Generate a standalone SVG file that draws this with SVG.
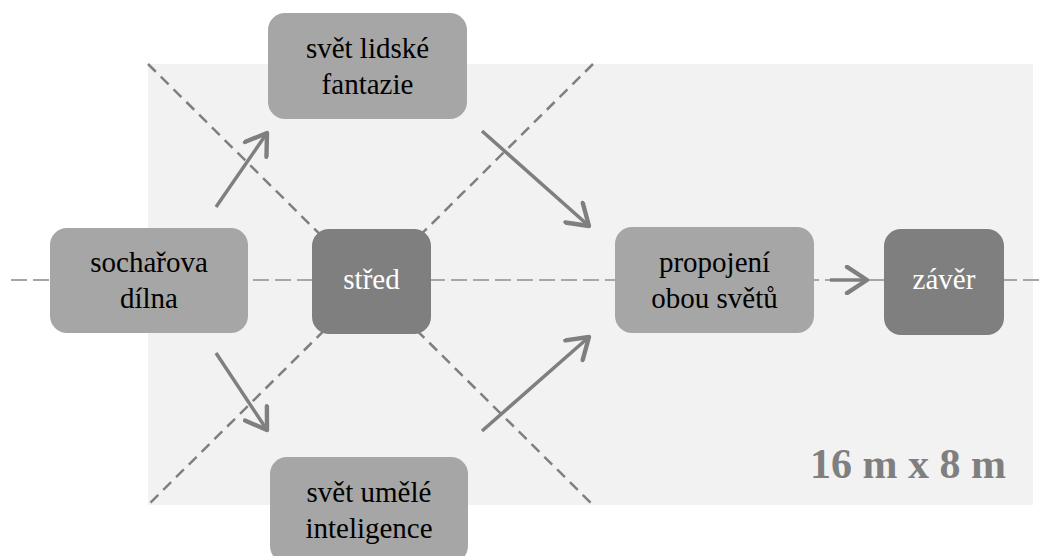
<svg xmlns="http://www.w3.org/2000/svg" width="1046" height="556" viewBox="0 0 1046 556">
<style>
.bg{fill:#f2f2f2}
.n1{fill:#a6a6a6}
.n2{fill:#7f7f7f}
.t{font-family:"Liberation Serif","Times New Roman",serif;font-size:29px;text-anchor:middle;fill:#000}
.tw{fill:#fff}
.hd{stroke:#a6a6a6;stroke-width:2;stroke-dasharray:16 6;fill:none}
.dd{stroke:#7f7f7f;stroke-width:2.5;stroke-dasharray:11 7;fill:none}
.ar{stroke:#7f7f7f;stroke-width:3.5;fill:none;marker-end:url(#ah)}
.dim{font-family:"Liberation Serif","Times New Roman",serif;font-size:42px;font-weight:bold;fill:#7f7f7f;text-anchor:end}
</style>
<defs>
<marker id="ah" markerUnits="userSpaceOnUse" markerWidth="30" markerHeight="30" refX="20" refY="12" orient="auto" viewBox="0 0 24 24">
<path d="M4,1.5 L20,12 L4,22.5" fill="none" stroke="#7f7f7f" stroke-width="3.5" stroke-linecap="round" stroke-linejoin="round"/>
</marker>
</defs>
<rect class="bg" x="148" y="64" width="885" height="441"/>
<g id="connectors">
<line class="hd" x1="11" y1="280" x2="1040" y2="280"/>
<line class="dd" x1="148" y1="64" x2="593" y2="505"/>
<line class="dd" x1="593" y1="64" x2="148" y2="505"/>
<line class="ar" x1="216" y1="207" x2="267" y2="133"/>
<line class="ar" x1="216" y1="353" x2="267" y2="430"/>
<line class="ar" x1="482" y1="131" x2="589" y2="226"/>
<line class="ar" x1="482" y1="431" x2="589" y2="337"/>
<line class="ar" x1="830" y1="280" x2="867" y2="280"/>
</g>
<g id="socharova-dilna">
<rect class="n1" x="50" y="228" width="198" height="105" rx="17"/>
<text class="t" x="149" y="272">sochařova</text>
<text class="t" x="149" y="308">dílna</text>
</g>
<g id="svet-lidske-fantazie">
<rect class="n1" x="268" y="13" width="199" height="106" rx="17"/>
<text class="t" x="367.5" y="58">svět lidské</text>
<text class="t" x="367.5" y="94">fantazie</text>
</g>
<g id="stred">
<rect class="n2" x="312" y="229" width="119" height="105" rx="17"/>
<text class="t tw" x="371.5" y="289">střed</text>
</g>
<g id="svet-umele-inteligence">
<rect class="n1" x="270" y="457" width="198" height="106" rx="17"/>
<text class="t" x="369" y="502">svět umělé</text>
<text class="t" x="369" y="538">inteligence</text>
</g>
<g id="propojeni">
<rect class="n1" x="615" y="227" width="199" height="106" rx="17"/>
<text class="t" x="714.5" y="272">propojení</text>
<text class="t" x="714.5" y="308">obou světů</text>
</g>
<g id="zaver">
<rect class="n2" x="884" y="229" width="120" height="106" rx="17"/>
<text class="t tw" x="944" y="289">závěr</text>
</g>
<text class="dim" x="1006" y="478">16 m x 8 m</text>
</svg>
